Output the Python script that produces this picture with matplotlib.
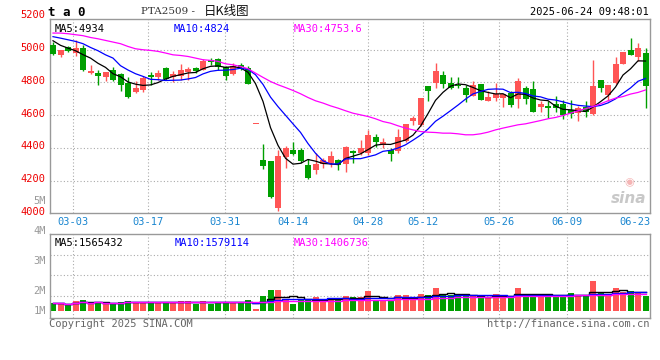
import numpy as np
import pandas as pd
import matplotlib
matplotlib.use("Agg")
import matplotlib.pyplot as plt

# Daily bars PTA2509 (80 trading days, 02-26 .. 06-24)
opens = [5031, 4965, 5016, 4980, 5010, 4857, 4859, 4835, 4878, 4849,
         4796, 4743, 4755, 4843, 4833, 4886, 4831, 4837, 4867, 4886,
         4878, 4939, 4943, 4892, 4853, 4908, 4888, 4544, 4327, 4317,
         4031, 4347, 4388, 4388, 4296, 4266, 4300, 4310, 4327, 4300,
         4378, 4368, 4368, 4466, 4419, 4388, 4378, 4443, 4565, 4537,
         4780, 4796, 4847, 4796, 4786, 4765, 4720, 4792, 4684, 4704,
         4708, 4735, 4700, 4765, 4761, 4647, 4657, 4669, 4669, 4633,
         4612, 4653, 4606, 4816, 4724, 4796, 4914, 5000, 4953, 4980]
highs = [5050, 4998, 5024, 5061, 5027, 4904, 4878, 4865, 4896, 4857,
         4831, 4806, 4837, 4867, 4878, 4892, 4871, 4912, 4892, 4896,
         4945, 4949, 4949, 4898, 4918, 4918, 4898, 4544, 4425, 4317,
         4384, 4412, 4439, 4402, 4331, 4368, 4337, 4378, 4333, 4414,
         4388, 4449, 4510, 4486, 4459, 4398, 4517, 4547, 4592, 4708,
         4780, 4922, 4871, 4833, 4833, 4786, 4806, 4792, 4745, 4796,
         4731, 4745, 4829, 4780, 4806, 4684, 4684, 4720, 4694, 4694,
         4657, 4688, 4939, 4816, 4786, 4955, 4986, 5071, 5041, 5010]
lows = [4970, 4953, 4984, 4963, 4871, 4853, 4786, 4810, 4810, 4745,
        4708, 4735, 4739, 4786, 4816, 4816, 4804, 4812, 4816, 4857,
        4874, 4904, 4878, 4812, 4847, 4878, 4792, 4544, 4272, 4094,
        4015, 4280, 4357, 4306, 4211, 4239, 4276, 4286, 4266, 4255,
        4306, 4357, 4357, 4408, 4398, 4321, 4368, 4439, 4541, 4531,
        4688, 4765, 4765, 4761, 4765, 4680, 4720, 4694, 4684, 4684,
        4653, 4647, 4643, 4671, 4622, 4620, 4582, 4620, 4576, 4582,
        4563, 4588, 4602, 4739, 4688, 4790, 4912, 4969, 4929, 4643]
closes = [4976, 4996, 4990, 5010, 4878, 4871, 4837, 4865, 4816, 4786,
          4712, 4769, 4827, 4831, 4857, 4820, 4851, 4878, 4884, 4873,
          4933, 4925, 4892, 4837, 4898, 4894, 4792, 4544, 4292, 4098,
          4351, 4398, 4364, 4317, 4215, 4300, 4327, 4351, 4296, 4404,
          4368, 4398, 4480, 4433, 4433, 4361, 4466, 4547, 4582, 4708,
          4745, 4871, 4792, 4769, 4776, 4724, 4786, 4694, 4714, 4731,
          4731, 4663, 4810, 4700, 4622, 4669, 4643, 4643, 4602, 4606,
          4643, 4618, 4780, 4765, 4782, 4914, 4986, 4969, 5010, 4776]
# volume in millions of lots
volumes = [1.02, 0.95, 0.93, 1.13, 1.16, 0.99, 1.06, 0.99, 0.95, 1.06,
           1.11, 1.06, 1.06, 1.06, 1.06, 1.06, 1.06, 1.11, 1.11, 0.97,
           1.11, 0.97, 1.06, 1.06, 1.06, 1.06, 1.16, 0.71, 1.37, 1.69,
           1.69, 1.16, 0.95, 1.16, 1.16, 1.30, 1.16, 1.25, 1.25, 1.37,
           1.30, 1.30, 1.64, 1.16, 1.16, 1.16, 1.41, 1.41, 1.16, 1.48,
           1.41, 1.79, 1.48, 1.41, 1.37, 1.37, 1.37, 1.30, 1.30, 1.48,
           1.41, 1.30, 1.79, 1.41, 1.41, 1.41, 1.41, 1.41, 1.41, 1.53,
           1.37, 1.37, 2.16, 1.51, 1.41, 1.79, 1.60, 1.64, 1.55, 1.37]
# moving averages at the left edge (need days before the window)
ma5_head = [5055, 5027, 5010, 4994]
ma10_head = [5080, 5071, 5061, 5051, 5037, 5014, 4994, 4969, 4949]
ma30 = [5102, 5102, 5098, 5092, 5086, 5075, 5067, 5057, 5047, 5037,
        5020, 5006, 5000, 4996, 4990, 4980, 4969, 4965, 4959, 4949,
        4939, 4935, 4929, 4914, 4908, 4898, 4884, 4857, 4831, 4806,
        4786, 4769, 4751, 4731, 4708, 4688, 4674, 4657, 4643, 4627,
        4612, 4602, 4592, 4578, 4561, 4551, 4535, 4521, 4510, 4500,
        4496, 4494, 4490, 4490, 4486, 4480, 4480, 4486, 4496, 4510,
        4521, 4531, 4541, 4547, 4557, 4567, 4578, 4586, 4598, 4612,
        4627, 4639, 4653, 4669, 4688, 4704, 4714, 4729, 4739, 4754]

date_labels = ["03-03", "03-17", "03-31", "04-14", "04-28", "05-12", "05-26", "06-09", "06-23"]
date_pos = [2.6, 12.7, 22.9, 32.0, 42.0, 49.3, 59.4, 68.5, 77.6]
price_labels = [4000, 4200, 4400, 4600, 4800, 5000, 5200]
price_legend = ["MA5:4934", "MA10:4824", "MA30:4753.6"]
vol_legend = ["MA5:1565432", "MA10:1579114", "MA30:1406736"]

UP = "#ff5555"
DOWN = "#009f00"
GRID = "#aaaaaa"
MONO = "DejaVu Sans Mono"
MA_COLORS = ["black", "#0000ff", "#ff00ff"]

W, H = 660, 360


def px(x, y):
    return x / W, 1 - y / H


n = len(closes)
x = np.arange(n)
o = np.array(opens, float)
c = np.array(closes, float)
colors = [UP if cc >= oo else DOWN for oo, cc in zip(o, c)]

ma5 = pd.Series(c).rolling(5).mean().to_numpy()
ma5[:4] = ma5_head
ma10 = pd.Series(c).rolling(10).mean().to_numpy()
ma10[:9] = ma10_head

vol = np.array(volumes)
VOL_BASE = 0.6
vma5 = pd.Series(vol).rolling(5, min_periods=1).mean()
vma10 = pd.Series(vol).rolling(10, min_periods=1).mean()
vma30 = pd.Series(vol).rolling(30, min_periods=1).mean()

fig = plt.figure(figsize=(6.6, 3.6), dpi=100)
ax = fig.add_axes([50 / W, 1 - 213.3 / H, 600 / W, 194.3 / H])
ax2 = fig.add_axes([50 / W, 1 - 318 / H, 600 / W, 83.7 / H])

# ---- price panel
ax.set_xlim(-0.4, 79.6)
ax.set_ylim(4000, 5188)
for p in price_labels[1:-1]:
    ax.axhline(p, color=GRID, lw=0.8, ls=(0, (1, 2)), zorder=0)
for p in date_pos[:-1]:
    ax.axvline(p, color=GRID, lw=0.8, ls=(0, (1, 2)), zorder=0)

ax.vlines(x, lows, highs, colors=colors, lw=1, zorder=2)
body = np.maximum(np.abs(c - o), 6)
ax.bar(x, body, bottom=np.minimum(o, c), width=0.8, color=colors, lw=0, zorder=3)

for line, col in zip([ma5, ma10, ma30], MA_COLORS):
    ax.plot(x, line, color=col, lw=0.9, zorder=4)

for p in price_labels:
    ax.text(-0.007, p + 10, str(p), transform=ax.get_yaxis_transform(), ha="right", va="center",
            color="#ee0000", fontsize=7.5, family=MONO, clip_on=False)
for lab, p in zip(date_labels, date_pos):
    ax.text(p, -0.043, lab, transform=ax.get_xaxis_transform(), ha="center", va="center",
            color="#1a86d0", fontsize=7.5, family=MONO, clip_on=False)

for lab, col, lx in zip(price_legend, MA_COLORS, [5, 124, 244]):
    ax.text(lx / 600, 0.975, lab, transform=ax.transAxes, va="top",
            fontsize=7.5, family=MONO, color=col)

# sina watermark
ax.text(0.965, 0.075, "sina", transform=ax.transAxes, ha="center", va="center",
        fontsize=11, style="italic", weight="bold", color="#c8c8c8", zorder=1)
ax.text(0.965, 0.16, "◉", transform=ax.transAxes, ha="center", va="center",
        fontsize=8, color="#f5b5b5", zorder=1)

# ---- volume panel
ax2.set_xlim(-0.4, 79.6)
ax2.set_ylim(0.216, 4.62)
for v in [1.39, 2.46, 3.53]:
    ax2.axhline(v, color=GRID, lw=0.8, ls=(0, (1, 2)), zorder=0)
for p in date_pos[:-1]:
    ax2.axvline(p, color=GRID, lw=0.8, ls=(0, (1, 2)), zorder=0)
ax2.bar(x, vol - VOL_BASE, bottom=VOL_BASE, width=0.8, color=colors, lw=0, zorder=2)
for line, col in zip([vma5, vma10, vma30], MA_COLORS):
    ax2.plot(x, line, color=col, lw=1, drawstyle="steps-mid", zorder=3)

for lab, col, lx in zip(vol_legend, MA_COLORS, [5, 125, 244]):
    ax2.text(lx / 600, 0.96, lab, transform=ax2.transAxes, va="top",
             fontsize=7.5, family=MONO, color=col)

for a in (ax, ax2):
    a.set_xticks([])
    a.set_yticks([])
    for s in a.spines.values():
        s.set_color("#999999")
        s.set_linewidth(1)

for lab, yy in [("5M", 201), ("4M", 231), ("3M", 260.7), ("2M", 290.7), ("1M", 310.7)]:
    fig.text(*px(46, yy), lab, ha="right", va="center", fontsize=7.5, family=MONO, color="#999999")

# ---- header / footer
fig.text(*px(48, 12), "t a 0", ha="left", va="center", fontsize=9, weight="bold", family=MONO)
fig.text(*px(141, 12), "PTA2509 -", ha="left", va="center", fontsize=7.5, family="DejaVu Serif",
         color="#333333")
fig.text(*px(204, 12), "日K线图", ha="left", va="center", fontsize=9,
         family=["Noto Sans CJK SC", "DejaVu Sans"], color="#111111")
fig.text(*px(649, 12), "2025-06-24 09:48:01", ha="right", va="center", fontsize=7.5, family=MONO)
fig.text(*px(49, 324), "Copyright 2025 SINA.COM", ha="left", va="center", fontsize=7.5,
         family=MONO, color="#666666")
fig.text(*px(650, 324), "http://finance.sina.com.cn", ha="right", va="center", fontsize=7.5,
         family=MONO, color="#666666")

fig.savefig("out.png", dpi=100, facecolor="white")
